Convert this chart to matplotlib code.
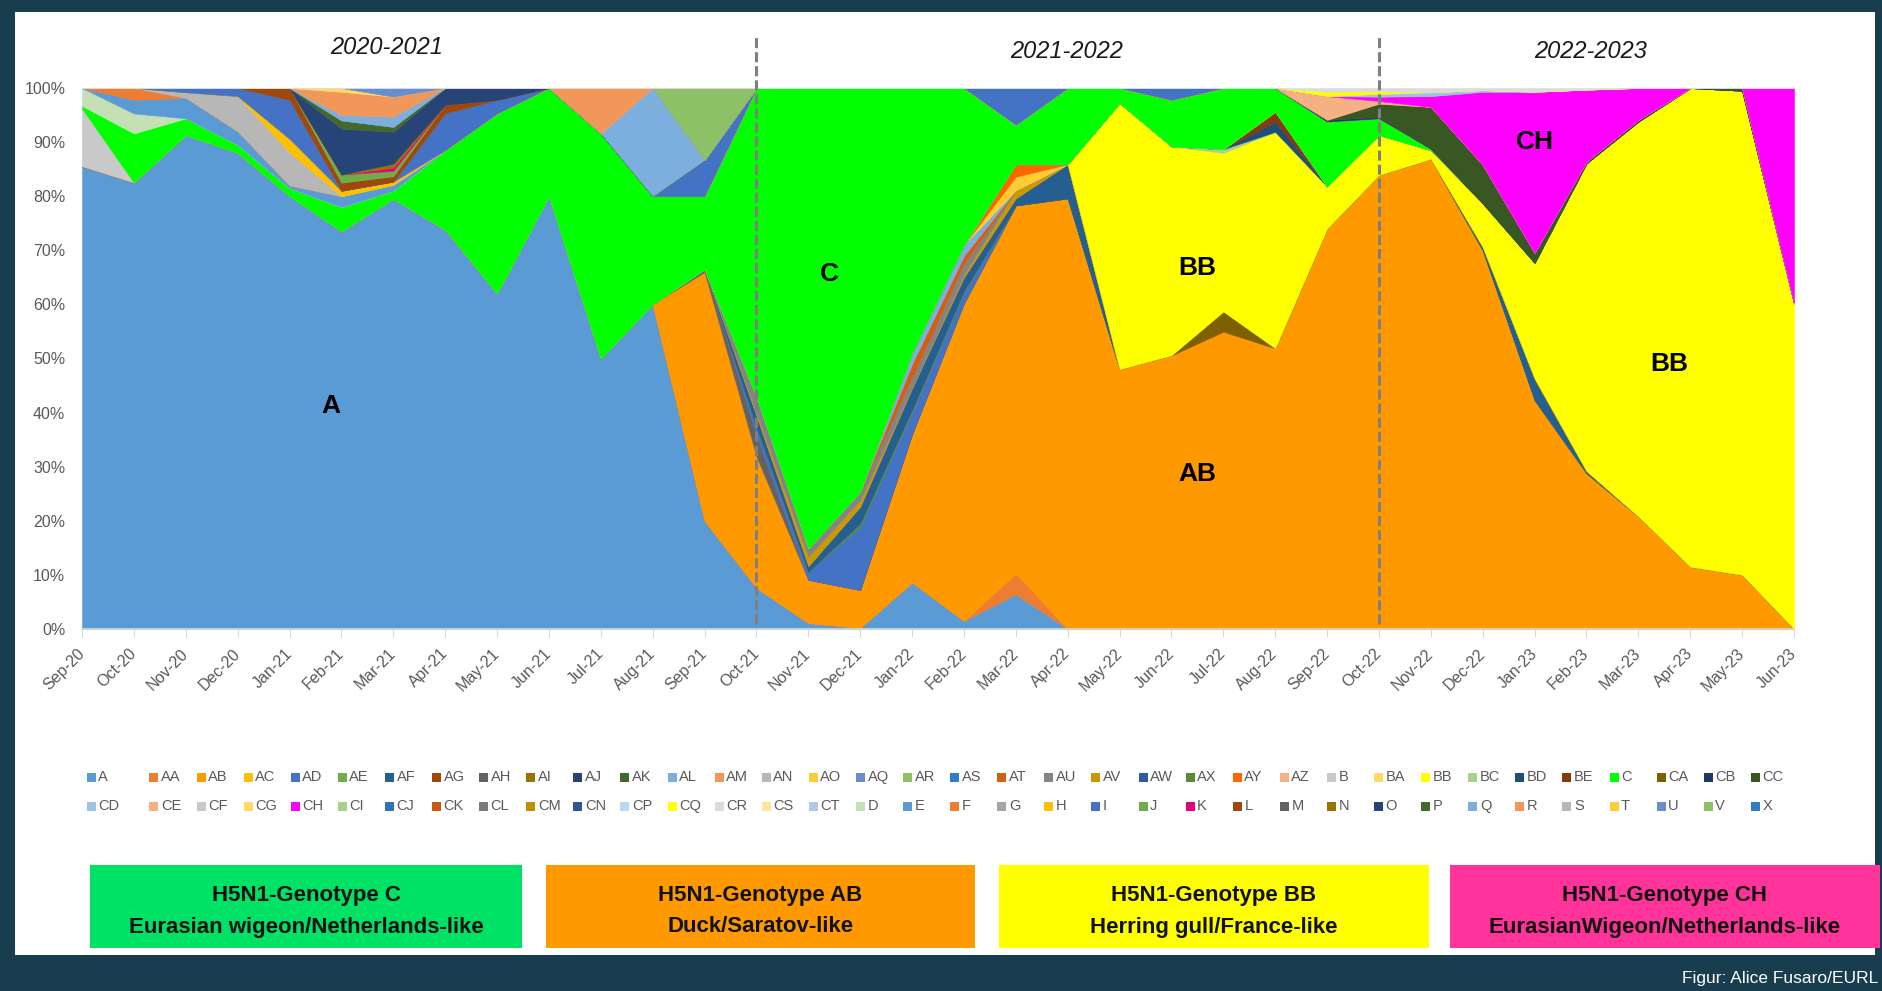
import numpy as np
import matplotlib.pyplot as plt
from matplotlib.patches import Rectangle

W, H = 1883, 991
NARROW = ['Liberation Sans Narrow', 'Liberation Sans', 'DejaVu Sans']
plt.rcParams['font.family'] = NARROW

months = ["Sep-20", "Oct-20", "Nov-20", "Dec-20", "Jan-21", "Feb-21", "Mar-21", "Apr-21",
          "May-21", "Jun-21", "Jul-21", "Aug-21", "Sep-21", "Oct-21", "Nov-21", "Dec-21",
          "Jan-22", "Feb-22", "Mar-22", "Apr-22", "May-22", "Jun-22", "Jul-22", "Aug-22",
          "Sep-22", "Oct-22", "Nov-22", "Dec-22", "Jan-23", "Feb-23", "Mar-23", "Apr-23",
          "May-23", "Jun-23"]


def on(values):
    # share (%) of a minor genotype, zero in the months where it was not seen
    return [values.get(m, 0) for m in months]


# main genotypes, % of sequenced viruses per month
A = [85.5, 82.5, 91.3, 88, 80, 73.5, 79.5, 73.8, 62, 80, 50, 60, 20, 7.6, 1.1, 0.2, 8.6,
     1.5, 6.4, 0, 0, 0, 0, 0, 0, 0, 0, 0, 0, 0, 0, 0, 0, 0]
AB = [0, 0, 0, 0, 0, 0, 0, 0, 0, 0, 0, 0, 46, 24.3, 8, 7, 27.4, 58.7, 68, 79.6, 48, 50.6,
      55, 51.9, 74, 83.9, 86.9, 70, 42.3, 28.8, 20.8, 11.5, 10, 0]
BB = [0, 0, 0, 0, 0, 0, 0, 0, 0, 0, 0, 0, 0, 0, 0, 0, 0, 0, 0, 0, 49.2, 38.6, 29.3, 40,
      7.8, 7.4, 1.6, 8.1, 21.4, 56.9, 73, 88.5, 89.5, 60.2]
C = [0.5, 9.1, 3.1, 1.5, 1.5, 4.5, 1.5, 14.7, 33.3, 20, 41.6, 20, 13.5, 57.1, 85.1, 74.6,
     49, 29, 7.3, 14.1, 2.8, 8.6, 11.3, 4.4, 12, 3.1, 0.3, 0, 0, 0, 0, 0, 0, 0]
CH = on({"Oct-22": 0.8, "Nov-22": 2.0, "Dec-22": 13.5, "Jan-23": 29.8, "Feb-23": 13.3,
         "Mar-23": 5.9, "Jun-23": 39.8})
CC = on({"Oct-22": 2.4, "Nov-22": 7.7, "Dec-22": 7.1, "Jan-23": 1.8, "Feb-23": 0.3,
         "Mar-23": 0.3, "May-23": 0.5})

# minor genotypes
AA = on({"Mar-22": 3.9})
AH = on({"Sep-21": 0.5, "Oct-21": 4})
I = on({"Oct-21": 1.5, "Nov-21": 1.5, "Dec-21": 11.7, "Jan-22": 4, "Feb-22": 2})
AX = on({"Dec-21": 0.6, "Jan-22": 0.5, "Feb-22": 0.3})
AF = on({"Oct-21": 2, "Nov-21": 1, "Dec-21": 3.1, "Jan-22": 4, "Feb-22": 2.5, "Mar-22": 1.3,
         "Apr-22": 6.3, "Dec-22": 0.6, "Jan-23": 4, "Feb-23": 0.4})
AV = on({"Oct-21": 0.5, "Nov-21": 1.8, "Dec-21": 1.2, "Feb-22": 0.5, "Mar-22": 1.5})
AU = on({"Oct-21": 3, "Nov-21": 1.5, "Dec-21": 1.6, "Jan-22": 2, "Feb-22": 2})
AT = on({"Jan-22": 2.5, "Feb-22": 1.5})
Q = on({"Jan-22": 2, "Feb-22": 2})
AO = on({"Mar-22": 2.5})
AY = on({"Mar-22": 2.3})
CA = on({"Jul-22": 3.7})
BC = on({"Jul-22": 0.7})
BD = on({"Aug-22": 1.9})
BE = on({"Aug-22": 1.8})
B = on({"Sep-20": 10.7})
D = on({"Sep-20": 3.3, "Oct-20": 3.7})
E = on({"Oct-20": 2.5, "Nov-20": 3.8, "Dec-20": 2.5, "Jan-21": 0.5, "Feb-21": 2, "Mar-21": 1.1})
F = on({"Oct-20": 2.2})
AN = on({"Nov-20": 1.0, "Dec-20": 6.5, "Jan-21": 6.1})
AC = on({"Jan-21": 2.5, "Feb-21": 1, "Mar-21": 0.6})
AD = on({"Nov-20": 0.8, "Dec-20": 1.5, "Jan-21": 7.2, "Apr-21": 6.8, "May-21": 2.5,
         "Sep-21": 6.7, "Mar-22": 6.8, "Jun-22": 2.2})
AG = on({"Jan-21": 2.2, "Feb-21": 1.5, "Mar-21": 1.0, "Apr-21": 1.6})
AE = on({"Feb-21": 1.5, "Mar-21": 1.0})
K = on({"Mar-21": 0.6})
AI = on({"Mar-21": 0.7})
AJ = on({"Feb-21": 8.5, "Mar-21": 5.9, "Apr-21": 3.1, "May-21": 2.2})
AK = on({"Feb-21": 1.5, "Mar-21": 0.9})
AL = on({"Feb-21": 1, "Mar-21": 1.9, "Aug-21": 20})
AM = on({"Feb-21": 4.3, "Mar-21": 3.7, "Jul-21": 8.4})
BA = on({"Feb-21": 0.7})
AQ = on({"Mar-21": 1.6})
AR = on({"Sep-21": 13.3})
CB = on({"Sep-22": 0.3, "Oct-22": 0.3})
CE = on({"Sep-22": 4.4, "Oct-22": 0.5})
CD = on({"Oct-22": 0.5, "Nov-22": 0.7, "Dec-22": 0.3})
CQ = on({"Sep-22": 0.8, "Oct-22": 0.5})
CR = on({"Sep-22": 0.7, "Oct-22": 0.6, "Nov-22": 0.8, "Dec-22": 0.4, "Jan-23": 0.7, "Feb-23": 0.3})

legend_row1 = ["A", "AA", "AB", "AC", "AD", "AE", "AF", "AG", "AH", "AI", "AJ", "AK", "AL",
               "AM", "AN", "AO", "AQ", "AR", "AS", "AT", "AU", "AV", "AW", "AX", "AY", "AZ",
               "B", "BA", "BB", "BC", "BD", "BE", "C", "CA", "CB", "CC"]
legend_row2 = ["CD", "CE", "CF", "CG", "CH", "CI", "CJ", "CK", "CL", "CM", "CN", "CP", "CQ",
               "CR", "CS", "CT", "D", "E", "F", "G", "H", "I", "J", "K", "L", "M", "N", "O",
               "P", "Q", "R", "S", "T", "U", "V", "X"]

colors = {
    "A": "#5B9BD5", "AA": "#ED7D31", "AB": "#FF9900", "AC": "#FFC000", "AD": "#4472C4",
    "AE": "#70AD47", "AF": "#255E91", "AG": "#9E480E", "AH": "#636363", "AI": "#997300",
    "AJ": "#264478", "AK": "#43682B", "AL": "#7CAFDD", "AM": "#F1975A", "AN": "#B7B7B7",
    "AO": "#FFCD33", "AQ": "#698ED0", "AR": "#8CC168", "AS": "#327DC2", "AT": "#D26012",
    "AU": "#848484", "AV": "#CC9A00", "AW": "#335AA1", "AX": "#5A8A39", "AY": "#FF6600",
    "AZ": "#F4B183", "B": "#C9C9C9", "BA": "#FFD966", "BB": "#FFFF00", "BC": "#A9D18E",
    "BD": "#1F4E79", "BE": "#843C0C", "C": "#00FF00", "CA": "#7F6000", "CB": "#203864",
    "CC": "#385723", "CD": "#9DC3E6", "CE": "#F4B183", "CF": "#C9C9C9", "CG": "#FFD966",
    "CH": "#FF00FF", "CI": "#A9D18E", "CJ": "#2E75B6", "CK": "#C55A11", "CL": "#7B7B7B",
    "CM": "#BF9000", "CN": "#2F5597", "CP": "#BDD7EE", "CQ": "#FFFF00", "CR": "#DBDBDB",
    "CS": "#FFE699", "CT": "#B4C7E7", "D": "#C5E0B4", "E": "#5B9BD5", "F": "#ED7D31",
    "G": "#A5A5A5", "H": "#FFC000", "I": "#4472C4", "J": "#70AD47", "K": "#E6007E",
    "L": "#9E480E", "M": "#636363", "N": "#997300", "O": "#264478", "P": "#43682B",
    "Q": "#7CAFDD", "R": "#F1975A", "S": "#B7B7B7", "T": "#FFCD33", "U": "#698ED0",
    "V": "#8CC168", "X": "#327DC2",
}

series = {"A": A, "AA": AA, "AB": AB, "AH": AH, "I": I, "AX": AX, "AF": AF, "AV": AV,
          "AU": AU, "AT": AT, "Q": Q, "AO": AO, "AY": AY, "CA": CA, "BB": BB, "BC": BC,
          "BD": BD, "BE": BE, "B": B, "C": C, "D": D, "E": E, "F": F, "AN": AN, "AC": AC,
          "AD": AD, "AG": AG, "AE": AE, "K": K, "AI": AI, "AJ": AJ, "AK": AK, "AL": AL,
          "AM": AM, "BA": BA, "AQ": AQ, "AR": AR, "CB": CB, "CC": CC, "CE": CE, "CH": CH,
          "CD": CD, "CQ": CQ, "CR": CR}

# 100% stacked
vals = np.array(list(series.values()), dtype=float)
vals = vals / vals.sum(axis=0) * 100
x = np.arange(len(months))

fig = plt.figure(figsize=(W / 100, H / 100), dpi=100, facecolor="#183d4e")
fig.patches.append(Rectangle((15 / W, 36 / H), 1860 / W, 943 / H, transform=fig.transFigure,
                             facecolor="white", edgecolor="none", zorder=-5))

ax = fig.add_axes([82 / W, 362 / H, 1712 / W, 541 / H])
ax.set_facecolor("white")
polys = ax.stackplot(x, *vals, colors=[colors[n] for n in series], linewidth=0.4)
for p, n in zip(polys, series):
    p.set_edgecolor(colors[n])

ax.set_xlim(0, len(months) - 1)
ax.set_ylim(0, 100)
ax.set_yticks(np.arange(0, 101, 10))
ax.set_yticklabels([f"{v}%" for v in range(0, 101, 10)], fontsize=11.5, color="#595959")
ax.set_xticks(x)
ax.set_xticklabels(months, rotation=45, ha="right", va="center", rotation_mode="anchor",
                   fontsize=11.5, color="#595959")
ax.tick_params(axis="x", length=6, color="#D9D9D9", pad=10)
ax.tick_params(axis="y", length=0, pad=12)
for s in ["top", "right", "left"]:
    ax.spines[s].set_visible(False)
ax.spines["bottom"].set_color("#D9D9D9")
ax.spines["bottom"].set_linewidth(1.2)

# season separators
for xs in [13, 25]:
    ax.plot([xs, xs], [1, 109.6], color="#7F7F7F", lw=2.2, dashes=(3.3, 1.3), clip_on=False,
            zorder=5)

for xs, ys, t in [(5.88, 107.4, "2020-2021"), (18.97, 106.7, "2021-2022"), (29.08, 106.7, "2022-2023")]:
    ax.text(xs, ys, t, ha="center", va="center", fontsize=17, style="italic", color="#1a1a1a")

for xs, ys, t in [(4.8, 41.2, "A"), (14.4, 65.6, "C"), (21.5, 66.7, "BB"), (21.5, 28.7, "AB"),
                  (30.6, 49, "BB"), (28.0, 90, "CH")]:
    ax.text(xs, ys, t, ha="center", va="center", fontsize=19, fontweight="bold", color="black")

# legend, two rows on a fixed grid
for row, yrow in [(legend_row1, 777), (legend_row2, 806)]:
    for k, name in enumerate(row):
        xm = 91 if k == 0 else 154 + 47.1 * (k - 1)
        fig.patches.append(Rectangle(((xm - 4.5) / W, 1 - (yrow + 4.5) / H), 9 / W, 9 / H,
                                     transform=fig.transFigure, facecolor=colors[name],
                                     edgecolor="none"))
        fig.text((xm + 7) / W, 1 - yrow / H, name, ha="left", va="center", fontsize=10.5,
                 color="#595959")

# genotype boxes
boxes = [(90, 522, "#00E266", "H5N1-Genotype C", "Eurasian wigeon/Netherlands-like"),
         (546, 975, "#FF9900", "H5N1-Genotype AB", "Duck/Saratov-like"),
         (999, 1429, "#FFFF00", "H5N1-Genotype BB", "Herring gull/France-like"),
         (1450, 1880, "#FF3399", "H5N1-Genotype CH", "EurasianWigeon/Netherlands-like")]
for x0, x1, col, l1, l2 in boxes:
    fig.patches.append(Rectangle((x0 / W, 1 - 948 / H), (x1 - x0) / W, 83 / H,
                                 transform=fig.transFigure, facecolor=col, edgecolor="none"))
    xc = (x0 + x1) / 2 / W
    fig.text(xc, 1 - 895 / H, l1, ha="center", va="center", fontsize=16, fontweight="bold",
             color="#111111")
    fig.text(xc, 1 - 927 / H, l2, ha="center", va="center", fontsize=16, fontweight="bold",
             color="#111111")

fig.text(1878 / W, 1 - 979 / H, "Figur: Alice Fusaro/EURL", ha="right", va="center",
         fontsize=12.5, color="white")

fig.savefig("out.png", dpi=100, facecolor=fig.get_facecolor())
